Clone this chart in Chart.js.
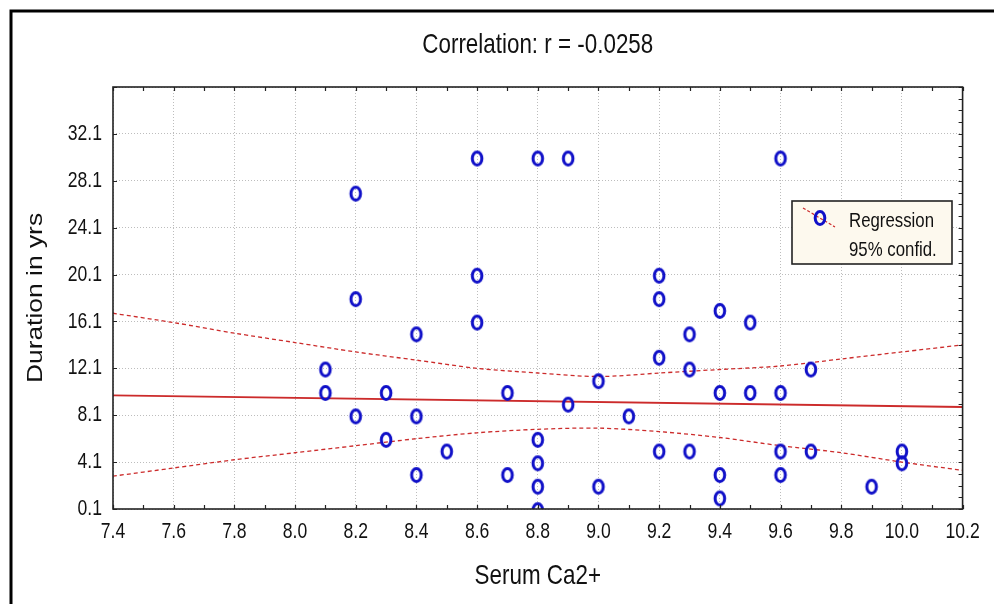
<!DOCTYPE html>
<html>
<head>
<meta charset="utf-8">
<script src="https://cdn.jsdelivr.net/npm/chart.js@4.4.0/dist/chart.umd.min.js"></script>
<style>
  html, body { margin: 0; padding: 0; background: #ffffff; }
  #wrap { width: 994px; height: 604px; }
</style>
</head>
<body>
<div id="wrap"><canvas id="c" width="994" height="604"></canvas></div>
<script>
// ---- data ----
const chartTitle = 'Correlation: r = -0.0258';
const xAxisTitle = 'Serum Ca2+';
const yAxisTitle = 'Duration in yrs';
const legendLabels = ['Regression', '95% confid.'];

const serumCa = [8.1, 8.1, 8.2, 8.2, 8.2, 8.3, 8.3, 8.4, 8.4, 8.4, 8.5, 8.6, 8.6, 8.6, 8.7, 8.7,
  8.8, 8.8, 8.8, 8.8, 8.8, 8.9, 8.9, 9.0, 9.0, 9.1, 9.2, 9.2, 9.2, 9.2, 9.3, 9.3, 9.3,
  9.4, 9.4, 9.4, 9.4, 9.5, 9.5, 9.6, 9.6, 9.6, 9.6, 9.7, 9.7, 9.9, 10.0, 10.0];
const durationYrs = [12, 10, 27, 18, 8, 10, 6, 15, 8, 3, 5, 30, 20, 16, 10, 3,
  30, 6, 4, 2, 0, 30, 9, 11, 2, 8, 20, 18, 13, 5, 15, 12, 5,
  17, 10, 3, 1, 16, 10, 30, 10, 5, 3, 12, 5, 2, 5, 4];

const regressionX = [7.4, 10.2];
const regressionY = [9.8, 8.8];

const bandX = [7.4, 7.6, 7.8, 8.0, 8.2, 8.4, 8.6, 8.8, 9.0, 9.2, 9.4, 9.6, 9.8, 10.0, 10.2];
const bandUpper = [16.8, 16.0, 15.1, 14.3, 13.5, 12.8, 12.1, 11.7, 11.4, 11.7, 12.0, 12.3, 12.9, 13.5, 14.1];
const bandLower = [2.9, 3.6, 4.3, 4.9, 5.5, 6.1, 6.6, 6.9, 7.0, 6.7, 6.2, 5.5, 4.9, 4.1, 3.4];

const xTickValues = [7.4, 7.6, 7.8, 8.0, 8.2, 8.4, 8.6, 8.8, 9.0, 9.2, 9.4, 9.6, 9.8, 10.0, 10.2];
const xTickLabels = ['7.4', '7.6', '7.8', '8.0', '8.2', '8.4', '8.6', '8.8', '9.0', '9.2', '9.4', '9.6', '9.8', '10.0', '10.2'];
const yTickValues = [0.1, 4.1, 8.1, 12.1, 16.1, 20.1, 24.1, 28.1, 32.1, 36.1];
const yTickLabels = ['0.1', '4.1', '8.1', '12.1', '16.1', '20.1', '24.1', '28.1', '32.1', ''];

// ---- styling ----
const FONT = "'Liberation Sans', Arial, sans-serif";
const BLUE = '#1010c8';
const RED = '#cc2b2b';

// The reference lettering is horizontally condensed: draw text with a narrow x-scale.
const canvasEl = document.getElementById('c');
const ctx0 = canvasEl.getContext('2d');
const origFillText = ctx0.fillText.bind(ctx0);
ctx0.fillText = function (text, x, y, maxWidth) {
  const m = this.getTransform();
  const rotated = Math.abs(m.b) > 1e-6;
  const sx = rotated ? 1.2 : 0.8;
  this.save();
  this.translate(x, y);
  this.scale(sx, 1);
  if (maxWidth !== undefined) origFillText(text, 0, 0, maxWidth / sx);
  else origFillText(text, 0, 0);
  this.restore();
};

function makeMarker() {
  const c = document.createElement('canvas');
  c.width = 16; c.height = 20;
  const g = c.getContext('2d');
  g.strokeStyle = BLUE;
  g.lineWidth = 3;
  g.beginPath();
  g.ellipse(8, 10, 4.8, 6.4, 0, 0, Math.PI * 2);
  g.stroke();
  return c;
}
const marker = makeMarker();

const decorPlugin = {
  id: 'decor',
  beforeDraw(chart) {
    const ctx = chart.ctx;
    ctx.save();
    ctx.fillStyle = '#ffffff';
    ctx.fillRect(0, 0, chart.width, chart.height);
    ctx.strokeStyle = '#000000';
    ctx.lineWidth = 3;
    ctx.strokeRect(11, 11, chart.width + 20, chart.height + 20);
    ctx.restore();
  },
  afterDatasetsDraw(chart) {
    const ctx = chart.ctx;
    const a = chart.chartArea;
    const xs = chart.scales.x, ys = chart.scales.y;
    ctx.save();
    ctx.strokeStyle = '#222222';
    ctx.lineWidth = 1.6;
    ctx.strokeRect(a.left, a.top, a.right - a.left, a.bottom - a.top);
    ctx.lineWidth = 1.2;
    ctx.beginPath();
    for (let i = 0; i <= 28; i++) {
      const v = xTickValues[0] + i * 0.1;
      const px = Math.round(xs.getPixelForValue(v)) + 0.5;
      ctx.moveTo(px, a.bottom); ctx.lineTo(px, a.bottom - 4);
      ctx.moveTo(px, a.top); ctx.lineTo(px, a.top + 4);
    }
    yTickValues.forEach(v => {
      const py = Math.round(ys.getPixelForValue(v)) + 0.5;
      ctx.moveTo(a.left, py); ctx.lineTo(a.left + 4, py);
    });
    for (let i = 0; i <= 36; i++) {
      const py = Math.round(ys.getPixelForValue(yTickValues[0] + i)) + 0.5;
      ctx.moveTo(a.right, py); ctx.lineTo(a.right - 4, py);
    }
    ctx.stroke();
    ctx.restore();
  },
  afterDraw(chart) {
    const ctx = chart.ctx;
    ctx.save();
    const bx = 792, by = 201, bw = 160, bh = 63;
    ctx.fillStyle = '#fdf9ee';
    ctx.fillRect(bx, by, bw, bh);
    ctx.strokeStyle = '#222222';
    ctx.lineWidth = 1.6;
    ctx.strokeRect(bx, by, bw, bh);
    ctx.strokeStyle = RED;
    ctx.lineWidth = 1.2;
    ctx.setLineDash([3, 2]);
    ctx.beginPath();
    ctx.moveTo(bx + 11, by + 7);
    ctx.lineTo(bx + 43, by + 26);
    ctx.stroke();
    ctx.setLineDash([]);
    ctx.drawImage(marker, bx + 28 - 8, by + 17 - 10);
    ctx.fillStyle = '#111111';
    ctx.font = "21px " + FONT;
    ctx.textBaseline = 'middle';
    ctx.textAlign = 'left';
    ctx.fillText(legendLabels[0], bx + 57, by + 20);
    ctx.fillText(legendLabels[1], bx + 57, by + 49);
    ctx.restore();
  }
};

const pointData = serumCa.map((x, i) => ({ x: x, y: durationYrs[i] }));
const regData = regressionX.map((x, i) => ({ x: x, y: regressionY[i] }));
const upperData = bandX.map((x, i) => ({ x: x, y: bandUpper[i] }));
const lowerData = bandX.map((x, i) => ({ x: x, y: bandLower[i] }));

new Chart(canvasEl, {
  type: 'scatter',
  data: {
    datasets: [
      { label: 'Duration', data: pointData, pointStyle: marker, pointRadius: 7, showLine: false, clip: 0, order: 0 },
      { label: 'Regression', type: 'line', data: regData, borderColor: RED, borderWidth: 1.8, pointRadius: 0, fill: false, order: 1 },
      { label: '95% upper', type: 'line', data: upperData, borderColor: RED, borderWidth: 1.3, borderDash: [4, 3], pointRadius: 0, fill: false, tension: 0.3, order: 1 },
      { label: '95% lower', type: 'line', data: lowerData, borderColor: RED, borderWidth: 1.3, borderDash: [4, 3], pointRadius: 0, fill: false, tension: 0.3, order: 1 }
    ]
  },
  options: {
    responsive: false,
    animation: false,
    events: [],
    layout: { padding: { left: 0, right: 29, top: 0, bottom: 0 } },
    plugins: {
      legend: { display: false },
      tooltip: { enabled: false },
      title: {
        display: true,
        fullSize: false,
        text: chartTitle,
        color: '#111111',
        font: { family: FONT, size: 28, weight: 'normal' },
        padding: { top: 28, bottom: 25.4 }
      }
    },
    scales: {
      x: {
        type: 'linear',
        min: 7.4, max: 10.2,
        afterFit: s => { s.height = 95; },
        afterBuildTicks: s => { s.ticks = xTickValues.map(v => ({ value: v })); },
        ticks: {
          color: '#111111',
          font: { family: FONT, size: 22 },
          padding: 10,
          maxRotation: 0,
          autoSkip: false,
          callback: (v, i) => xTickLabels[i]
        },
        grid: { color: '#bdbdbd', lineWidth: 1, drawTicks: false },
        border: { display: false, dash: [1, 2] },
        title: {
          display: true,
          text: xAxisTitle,
          color: '#111111',
          font: { family: FONT, size: 28 },
          padding: { top: 0, bottom: 11 }
        }
      },
      y: {
        type: 'linear',
        min: 0.1, max: 36.1,
        afterFit: s => { s.width = 113; },
        afterBuildTicks: s => { s.ticks = yTickValues.map(v => ({ value: v })); },
        ticks: {
          color: '#111111',
          font: { family: FONT, size: 22 },
          padding: 11,
          autoSkip: false,
          callback: (v, i) => yTickLabels[i]
        },
        grid: { color: '#bdbdbd', lineWidth: 1, drawTicks: false },
        border: { display: false, dash: [1, 2] },
        title: {
          display: true,
          text: yAxisTitle,
          color: '#111111',
          font: { family: FONT, size: 22 },
          padding: { top: 23, bottom: 0 }
        }
      }
    }
  },
  plugins: [decorPlugin]
});
</script>
</body>
</html>
